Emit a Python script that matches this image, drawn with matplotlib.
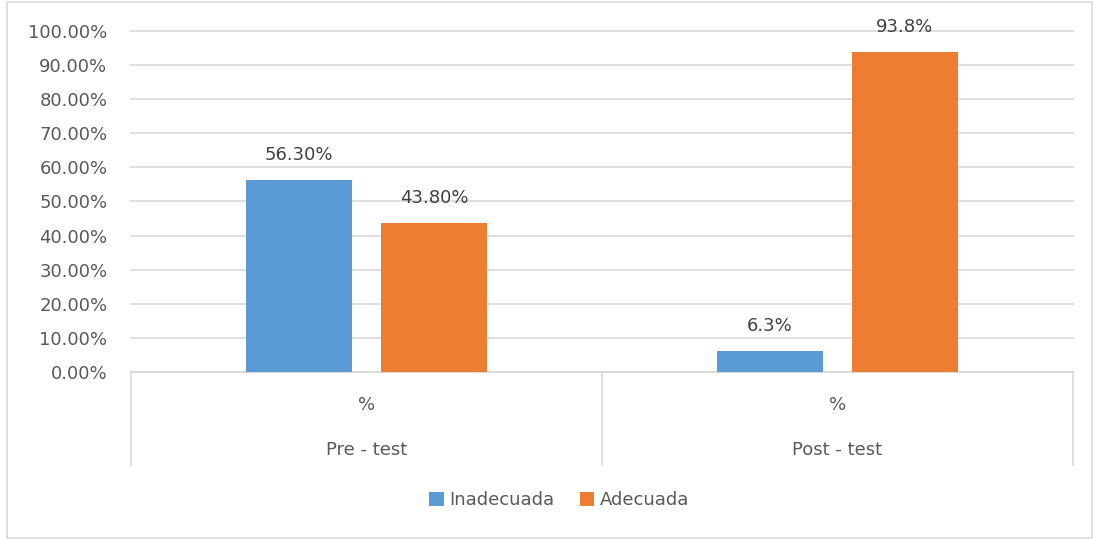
import matplotlib
matplotlib.use("Agg")
import matplotlib.pyplot as plt
from matplotlib.patches import Rectangle

categories = ["Pre - test", "Post - test"]
sublabels = ["%", "%"]
series_names = ["Inadecuada", "Adecuada"]
inadecuada = [0.563, 0.063]
adecuada = [0.438, 0.938]
inadecuada_labels = ["56.30%", "6.3%"]
adecuada_labels = ["43.80%", "93.8%"]

colors = ["#5B9BD5", "#ED7D31"]
text_color = "#595959"
grid_color = "#D9D9D9"
FONT = "DejaVu Sans"
FS = 13

plt.rcParams["font.family"] = [FONT]

fig = plt.figure(figsize=(10.96, 5.40), dpi=100)
ax = fig.add_axes([131/1096, (540-372)/540, (1073-131)/1096, (372-31)/540])

width = 0.225
offset = 0.1433
xs = list(range(len(categories)))
for vals, labs, col, sign, name in [(inadecuada, inadecuada_labels, colors[0], -1, series_names[0]),
                                    (adecuada, adecuada_labels, colors[1], 1, series_names[1])]:
    pos = [x + sign*offset for x in xs]
    ax.bar(pos, vals, width=width, color=col, label=name, zorder=3)
    for p, v, l in zip(pos, vals, labs):
        ax.annotate(l, (p, v), xytext=(0, 18), textcoords="offset points",
                    ha="center", va="center", fontsize=FS, color="#404040")

ax.set_xlim(-0.5, 1.5)
ax.set_ylim(0, 1.0)
yt = [i/10 for i in range(11)]
ax.set_yticks(yt)
ax.set_yticklabels([f"{v*100:.2f}%" for v in yt], fontsize=FS, color=text_color)
ax.tick_params(axis="y", length=0, pad=17)
ax.set_xticks([])
ax.yaxis.grid(True, color=grid_color, linewidth=1.2, zorder=0)
for gl in ax.get_ygridlines():
    gl.set_clip_on(False)
for s in ["top", "right", "left"]:
    ax.spines[s].set_visible(False)
ax.spines["bottom"].set_color(grid_color)
ax.spines["bottom"].set_linewidth(1.2)

xt = ax.get_xaxis_transform()
for xb in [-0.5, 0.5, 1.5]:
    ax.plot([xb, xb], [0, -0.273], transform=xt, color=grid_color, lw=1.2, clip_on=False)
for x, c, s in zip(xs, categories, sublabels):
    ax.text(x, -0.097, s, transform=xt, ha="center", va="center", fontsize=FS, color=text_color)
    ax.text(x, -0.229, c, transform=xt, ha="center", va="center", fontsize=FS, color=text_color)

fig.legend(loc="center", bbox_to_anchor=(559/1096, (540-500)/540), ncol=2, frameon=False,
           fontsize=FS, labelcolor=text_color, handlelength=0.8, handleheight=0.8,
           handletextpad=0.3, columnspacing=1.4)

fig.patches.append(Rectangle((7/1096, 2/540), (1092-7)/1096, (538-2)/540, transform=fig.transFigure,
                             fill=False, edgecolor=grid_color, lw=1.2))

fig.savefig("out.png", dpi=100)
